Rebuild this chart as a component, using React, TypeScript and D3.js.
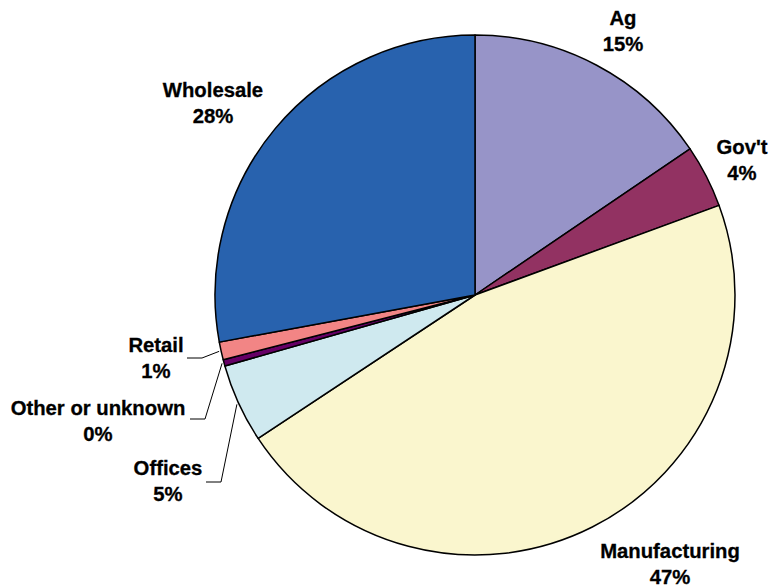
import React from "react";
import * as d3 from "d3";

const categories = ["Ag", "Gov't", "Manufacturing", "Offices", "Other or unknown", "Retail", "Wholesale"];
const values = [15.5, 3.9, 46.3, 4.9, 0.4, 1.1, 27.9];
const pctLabels = ["15%", "4%", "47%", "5%", "0%", "1%", "28%"];
const colors = ["#9794C8", "#923262", "#FAF6CE", "#CFE9EF", "#660066", "#F28585", "#2862AE"];

const W = 772, H = 587;
const cx = 475, cy = 295, R = 260;

// label anchor positions (center x, first baseline)
const labelPos: [number, number][] = [
  [623, 25], [742, 154], [670, 558], [168, 475], [98, 415], [156, 352], [213, 97],
];
// leader line for small slices: [labelLineStartX, labelLineEndX, y]
const leaders: Record<number, [number, number, number]> = {
  3: [206, 221, 482],
  4: [190, 205, 419],
  5: [187, 202, 358],
};

export default function App() {
  const data = categories.map((c, i) => ({ c, v: values[i], i }));
  const pie = d3.pie<any>().sort(null).value((d) => d.v).startAngle(0).endAngle(2 * Math.PI);
  const arcs = pie(data);
  const arc = d3.arc<any>().innerRadius(0).outerRadius(R);
  return (
    <svg width={W} height={H} style={{ position: "absolute", left: 0, top: 0, background: "#fff" }}>
      <g transform={`translate(${cx},${cy})`}>
        {arcs.map((a, i) => (
          <path key={i} d={arc(a) || ""} fill={colors[i]} stroke="#000" strokeWidth={1.5} strokeLinejoin="round" />
        ))}
      </g>
      {arcs.map((a, i) => {
        const l = leaders[i];
        if (!l) return null;
        const mid = (a.startAngle + a.endAngle) / 2;
        const px = cx + (R + 2) * Math.sin(mid);
        const py = cy - (R + 2) * Math.cos(mid);
        return (
          <polyline key={"l" + i} points={`${l[0]},${l[2]} ${l[1]},${l[2]} ${px},${py}`} fill="none" stroke="#000" strokeWidth={1} />
        );
      })}
      {categories.map((c, i) => (
        <text key={"t" + i} x={labelPos[i][0]} y={labelPos[i][1]} textAnchor="middle"
          fontFamily="Liberation Sans, Arial, sans-serif" fontWeight="bold" fontSize={20.3} fill="#000"
          stroke="#000" strokeWidth={0.3}>
          <tspan x={labelPos[i][0]}>{c}</tspan>
          <tspan x={labelPos[i][0]} dy={26}>{pctLabels[i]}</tspan>
        </text>
      ))}
    </svg>
  );
}
